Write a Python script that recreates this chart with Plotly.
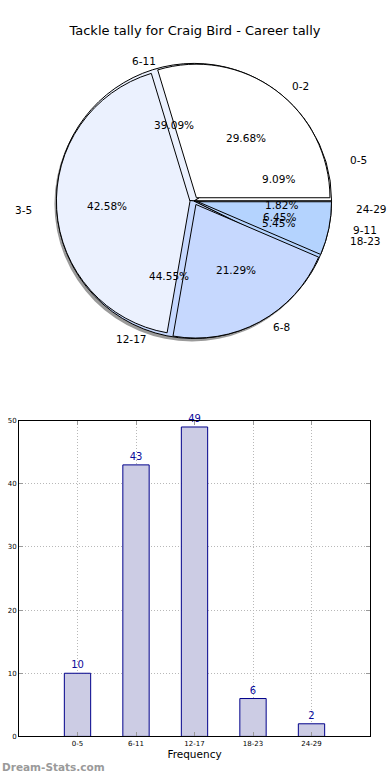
import math
import plotly.graph_objects as go

# ---- data ----
title_text = "Tackle tally for Craig Bird - Career tally"
bar_categories = ["0-5", "6-11", "12-17", "18-23", "24-29"]
bar_values = [10, 43, 49, 6, 2]
pie_a_labels = ["0-5", "6-11", "12-17", "18-23", "24-29"]
pie_a_values = [10, 43, 49, 6, 2]
pie_b_labels = ["0-2", "3-5", "6-8", "9-11"]
pie_b_values = [46, 66, 33, 10]
y_ticks = [0, 10, 20, 30, 40, 50]

W, H = 390, 780
FONT = "DejaVu Sans"

def px(x):
    return x / W

def py(y):
    return 1 - y / H

# pie geometry (pixels)
CX, CY, R = 194, 199, 139
RX, RY = 146, 132  # text placement radii

pie_a_colors = ["#FFFFFF", "#EBF1FE", "#C6D8FE", "#B4D3FE", "#FFFFFF"]
pie_b_colors = ["#FFFFFF", "#EBF1FE", "#C6D8FE", "#B4D3FE"]

fig = go.Figure()

def dom(cx, cy, r):
    return dict(x=[px(cx - r), px(cx + r)], y=[py(cy + r), py(cy - r)])

def ccw_rotation(values):
    # plotly counterclockwise pies end their first slice at `rotation`;
    # shift so the first slice starts at 3 o'clock (matplotlib startangle=0)
    return 90 - 360.0 * values[0] / sum(values)

# shadow
fig.add_trace(go.Pie(values=[1], labels=["shadow"], domain=dom(CX - 2, CY + 3, R),
                     marker=dict(colors=["#6f6f6f"], line=dict(width=0)),
                     textinfo="none", hoverinfo="skip", showlegend=False, opacity=0.7, sort=False))

fig.add_trace(go.Pie(values=pie_a_values, labels=pie_a_labels, domain=dom(CX, CY, R),
                     marker=dict(colors=pie_a_colors, line=dict(color="black", width=1)),
                     textinfo="none", sort=False, direction="counterclockwise",
                     rotation=ccw_rotation(pie_a_values), showlegend=False))

fig.add_trace(go.Pie(values=pie_b_values, labels=pie_b_labels, domain=dom(CX, CY, R),
                     marker=dict(colors=pie_b_colors, line=dict(color="black", width=1)),
                     textinfo="none", sort=False, direction="counterclockwise",
                     rotation=ccw_rotation(pie_b_values), showlegend=False,
                     pull=[0.03] * len(pie_b_values)))

annotations = []

def pie_text(labels, values):
    tot = sum(values)
    start = 0.0
    for lab, v in zip(labels, values):
        frac = v / tot
        mid = math.radians((start + frac / 2) * 360)
        start += frac
        c, s = math.cos(mid), math.sin(mid)
        annotations.append(dict(x=px(CX + 1.1 * RX * c), y=py(CY - 1.1 * RY * s),
                                xref="paper", yref="paper", text=lab, showarrow=False,
                                xanchor="left" if c > 0 else "right", yanchor="middle",
                                font=dict(family=FONT, size=10.5, color="black")))
        annotations.append(dict(x=px(CX + 0.6 * RX * c), y=py(CY - 0.6 * RY * s),
                                xref="paper", yref="paper", text="%.2f%%" % (frac * 100),
                                showarrow=False, xanchor="center", yanchor="middle",
                                font=dict(family=FONT, size=10.5, color="black")))

pie_text(pie_a_labels, pie_a_values)
pie_text(pie_b_labels, pie_b_values)

# bar chart
fig.add_trace(go.Bar(x=list(range(len(bar_categories))), y=bar_values, width=0.45,
                     marker=dict(color="#CCCCE4", line=dict(color="#00008B", width=1)),
                     text=[str(v) for v in bar_values], textposition="outside",
                     textfont=dict(family=FONT, size=10, color="#0a0a9a"),
                     cliponaxis=False, showlegend=False, xaxis="x", yaxis="y"))

annotations.append(dict(x=px(0), y=py(771), xref="paper", yref="paper", text="Dream-Stats.com",
                        showarrow=False, xanchor="left", yanchor="middle",
                        font=dict(family=FONT, size=10.5, color="#9a9a9a", weight="bold")))

fig.update_layout(
    width=W, height=H, margin=dict(l=0, r=0, t=0, b=0),
    paper_bgcolor="white", plot_bgcolor="white",
    title=dict(text=title_text, x=px(195), xanchor="center", y=py(30), yanchor="middle",
               font=dict(family=FONT, size=13, color="black")),
    annotations=annotations,
    xaxis=dict(domain=[px(19), px(370)], anchor="y", range=[-1, 5],
               tickmode="array", tickvals=list(range(len(bar_categories))), ticktext=bar_categories,
               ticks="inside", ticklen=4, tickcolor="#999", mirror="ticks",
               showline=True, linecolor="black", linewidth=1,
               showgrid=True, gridcolor="#b8b8b8", griddash="1px,2px", gridwidth=1,
               zeroline=False, tickfont=dict(family=FONT, size=7, color="black"),
               title=dict(text="Frequency", font=dict(family=FONT, size=10.5, color="black"), standoff=3)),
    yaxis=dict(domain=[py(740), py(421)], anchor="x", range=[0, 50],
               tickmode="array", tickvals=y_ticks,
               ticks="inside", ticklen=4, tickcolor="#999", mirror="ticks",
               showline=True, linecolor="black", linewidth=1,
               showgrid=True, gridcolor="#b8b8b8", griddash="1px,2px", gridwidth=1,
               zeroline=False, tickfont=dict(family=FONT, size=7, color="black")),
)

fig.write_html("out.html", config={"displayModeBar": False},
               post_script="document.body.style.margin='0';document.body.style.overflow='hidden';")
